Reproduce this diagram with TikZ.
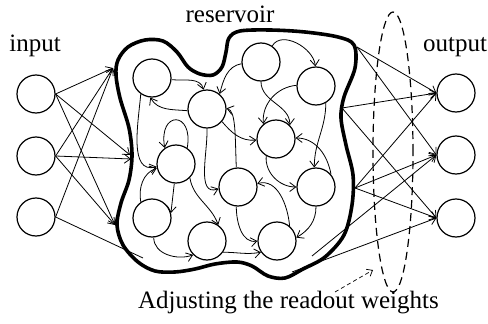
\documentclass[tikz,border=0pt]{standalone}
\usepackage{fontspec}
\setmainfont{Liberation Serif}
\usetikzlibrary{arrows.meta}
\begin{document}
\begin{tikzpicture}[x=1pt,y=1pt,
  neuron/.style={circle, draw, line width=1.2pt, minimum size=38pt, inner sep=0pt},
  edge/.style={line width=0.8pt, -{Straight Barb[length=6pt,width=9pt,line width=0.8pt]}},
  feed/.style={line width=0.8pt, -{Straight Barb[length=6pt,width=9pt,line width=0.8pt]}},
  label/.style={anchor=base, inner sep=0pt, font=\fontsize{25}{30}\selectfont}]
\useasboundingbox (0,0) rectangle (488,-324);

% labels
\node[label] (tin) at (35,-52) {input};
\node[label] (tres) at (230,-22) {reservoir};
\node[label] (tout) at (455,-52) {output};
\node[label, anchor=base east] (tadj) at (439,-308) {Adjusting the readout weights};

% input and output layers
\node[neuron] (in1) at (36,-94) {};
\node[neuron] (in2) at (36,-156) {};
\node[neuron] (in3) at (36,-217) {};
\node[neuron] (out1) at (456,-93) {};
\node[neuron] (out2) at (456,-155) {};
\node[neuron] (out3) at (456,-218) {};

% reservoir neurons
\node[neuron] (r1) at (152,-78) {};
\node[neuron] (r2) at (207,-109) {};
\node[neuron] (r3) at (261,-62) {};
\node[neuron] (r4) at (316,-86) {};
\node[neuron] (r5) at (276,-139) {};
\node[neuron] (r6) at (176,-164) {};
\node[neuron] (r7) at (238,-187) {};
\node[neuron] (r8) at (316,-187) {};
\node[neuron] (r9) at (152,-218) {};
\node[neuron] (r10) at (207,-241) {};
\node[neuron] (r11) at (277,-241) {};

% reservoir boundary
\draw[line width=3.6pt, line join=round] plot[smooth cycle, tension=0.55] coordinates {
  (118,-60) (128,-47) (145,-40) (163,-41) (177,-52) (188,-67) (200,-74)
  (213,-75) (222,-67) (226,-52) (229,-38) (240,-31) (270,-30) (305,-32)
  (338,-37) (354,-45) (355,-68) (344,-97) (341,-118) (346,-145) (353,-175)
  (352,-205) (344,-235) (325,-257) (303,-269) (285,-278) (268,-276)
  (252,-266) (237,-262) (215,-264) (195,-269) (175,-272) (155,-271)
  (138,-262) (123,-245) (117,-225) (121,-203) (129,-180) (132,-155)
  (129,-128) (120,-98) (116,-75)};

% entry points on the boundary
\coordinate (eT) at (113,-68);
\coordinate (eM1) at (130,-155);
\coordinate (eM2) at (131,-159);
\coordinate (eB) at (115,-225);
\coordinate (eL) at (143,-258);
% exit points on the boundary
\coordinate (xT) at (357,-47);
\coordinate (xM) at (342,-108);
\coordinate (xB) at (355,-188);
\coordinate (xL1) at (312,-256);
\coordinate (xL2) at (292,-272);

% input weights
\draw[feed] (in1.east) -- (eT);
\draw[feed] (in1.east) -- (eM1);
\draw[feed] (in1.east) -- (eB);
\draw[feed] (in2.east) -- (eT);
\draw[feed] (in2.east) -- (eM2);
\draw[feed] (in2.east) -- (eB);
\draw[feed] (in3.east) -- (eT);
\draw[line width=0.8pt] (in3.east) -- (eL);

% readout weights
\draw[feed] (xT) -- (out1.west);
\draw[feed] (xT) -- (out2.west);
\draw[feed] (xM) -- (out1.west);
\draw[feed] (xM) -- (out3.west);
\draw[feed] (xB) -- (out1.west);
\draw[feed] (xB) -- (out2.west);
\draw[feed] (xB) -- (out3.west);
\draw[feed] (xL1) -- (out2.west);
\draw[feed] (xL2) -- (out3.west);

% recurrent connections
\draw[edge] (r1.-5) to[out=-5,in=105] (r2.100);
\draw[edge] (r2.185) to[out=175,in=-60] (r1.-95);
\draw[edge] (r1.-125) to[out=-95,in=195] (r6.188);
\draw[edge] (r9.125) to[out=100,in=200] (r6.192);
\draw[edge] (r6.55) .. controls +(80:38) and +(100:38) .. (r6.125);
\draw[edge] (r6.-95) -- (r9.15);
\draw[edge] (r6.-45) to[out=-80,in=110] (r10.55);
\draw[edge] (r9.-85) to[out=-90,in=200] (r10.225);
\draw[edge] (r10.-35) to[out=0,in=190] (r11.215);
\draw[edge] (r7.-95) to[out=-90,in=190] (r11.180);
\draw[edge] (r11.50) to[out=95,in=15] (r7.10);
\draw[edge] (r8.-90) to[out=-90,in=30] (r11.10);
\draw[edge] (r5.-120) to[out=-95,in=180] (r8.180);
\draw[edge] (r8.40) to[out=100,in=0] (r5.3);
\draw[edge] (r4.-60) to[out=-90,in=90] (r8.95);
\draw[edge] (r3.55) to[out=60,in=95] (r4.92);
\draw[edge] (r3.185) to[out=190,in=75] (r2.50);
\draw[edge] (r3.-90) to[out=-90,in=90] (r5.45);
\draw[edge] (r4.178) to[out=185,in=95] (r5.130);
\draw[edge] (r2.-40) to[out=-50,in=185] (r5.183);
\draw[edge] (r7.95) .. controls (235,-135) and (236,-111) .. (r2.2);
\draw[edge] (r2.-90) to[out=-88,in=200] (r7.185);

% readout selection
\draw[line width=1.2pt, dash pattern=on 8pt off 5pt] (393,-152) ellipse (20 and 140);
\coordinate (ha) at (335,-292);
\coordinate (hb) at (373,-270);
\draw[line width=0.7pt, dash pattern=on 4pt off 3pt, -{Straight Barb[length=5pt,width=8pt,line width=0.7pt]}] (ha) -- (hb);
\end{tikzpicture}
\end{document}
